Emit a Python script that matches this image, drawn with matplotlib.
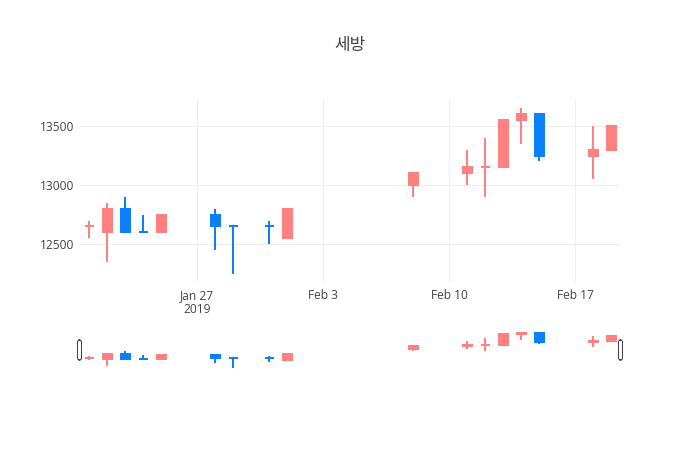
import matplotlib
matplotlib.use("Agg")
import matplotlib.pyplot as plt
import matplotlib.dates as mdates
from matplotlib.patches import FancyBboxPatch
import numpy as np
import datetime as dt

# ---- data ----
dates = ["2019-01-21", "2019-01-22", "2019-01-23", "2019-01-24", "2019-01-25",
         "2019-01-28", "2019-01-29", "2019-01-31", "2019-02-01", "2019-02-08",
         "2019-02-11", "2019-02-12", "2019-02-13", "2019-02-14", "2019-02-15",
         "2019-02-18", "2019-02-19"]
opens  = [12650, 12600, 12800, 12600, 12600, 12750, 12650, 12650, 12550, 13000,
          13100, 13150, 13150, 13550, 13600, 13250, 13300]
highs  = [12700, 12850, 12900, 12750, 12750, 12800, 12650, 12700, 12800, 13100,
          13300, 13400, 13550, 13650, 13600, 13500, 13500]
lows   = [12550, 12350, 12600, 12600, 12600, 12450, 12250, 12500, 12550, 12900,
          13000, 12900, 13150, 13350, 13200, 13050, 13300]
closes = [12650, 12800, 12600, 12600, 12750, 12650, 12650, 12650, 12800, 13100,
          13150, 13150, 13550, 13600, 13250, 13300, 13500]
title = "세방"
tick_dates = ["2019-01-27", "2019-02-03", "2019-02-10", "2019-02-17"]
tick_labels = ["Jan 27\n2019", "Feb 3", "Feb 10", "Feb 17"]

INC = "#FF8080"
DEC = "#0A80FF"
GRID = "#eeeeee"
TXT = "#444444"

x = mdates.date2num([dt.datetime.strptime(d, "%Y-%m-%d") for d in dates])
o = np.array(opens, float); h = np.array(highs, float)
l = np.array(lows, float); c = np.array(closes, float)

# plotly direction rule
inc = []
state = True
for i in range(len(o)):
    if c[i] != o[i]:
        state = c[i] > o[i]
    elif i > 0 and c[i] != c[i - 1]:
        state = c[i] > c[i - 1]
    inc.append(state)
colors = [INC if s else DEC for s in inc]

W, H = 700, 450
fig = plt.figure(figsize=(7, 4.5), dpi=100)
fig.patch.set_facecolor("white")

def px_axes(x0, y0, x1, y1):
    return fig.add_axes([x0 / W, 1 - y1 / H, (x1 - x0) / W, (y1 - y0) / H])

ax = px_axes(80, 100, 620, 282)
sl = px_axes(80, 330, 620, 370)

xmin = x.min() - 0.5
xmax = x.max() + 0.5
span = h.max() - l.min()
ymin = l.min() - 0.05 * span
ymax = h.max() + 0.05 * span

lw = 1.44  # 2 px

def draw(a):
    bodies = np.maximum(o, c) - np.minimum(o, c)
    a.vlines(x, l, h, colors=colors, linewidth=lw, zorder=2)
    a.bar(x, bodies, bottom=np.minimum(o, c), width=0.5, color=colors,
          edgecolor=colors, linewidth=lw, zorder=3)
    a.set_xlim(xmin, xmax)
    a.set_ylim(ymin, ymax)
    for s in a.spines.values():
        s.set_visible(False)

draw(ax)
draw(sl)

# main axes styling
tick_x = mdates.date2num([dt.datetime.strptime(d, "%Y-%m-%d") for d in tick_dates])
ax.set_xticks(tick_x)
ax.set_xticklabels(tick_labels, fontsize=8.64, color=TXT, family="Open Sans",
                   linespacing=1.1)
ax.set_yticks([12500, 13000, 13500])
ax.set_yticklabels(["12500", "13000", "13500"], fontsize=8.64, color=TXT,
                   family="Open Sans")
ax.tick_params(axis="both", length=0)
ax.tick_params(axis="x", pad=5)
ax.tick_params(axis="y", pad=4)
ax.grid(True, color=GRID, linewidth=0.75, zorder=0)
ax.set_axisbelow(True)

sl.set_xticks([]); sl.set_yticks([])
sl.patch.set_alpha(0)

# range slider handles
for hx in (79.5, 620.5):
    p = FancyBboxPatch(((hx - 2) / W, 1 - 360 / H), 4 / W, 20 / H,
                       boxstyle="round,pad=0,rounding_size=0.004",
                       transform=fig.transFigure, facecolor="white",
                       edgecolor="#444444", linewidth=0.75)
    fig.add_artist(p)

fig.text(350 / W, 1 - 45 / H, title, ha="center", va="center", fontsize=12.24,
         color=TXT, family=["Noto Sans CJK KR", "DejaVu Sans"])

fig.savefig("out.png", dpi=100, facecolor="white")
